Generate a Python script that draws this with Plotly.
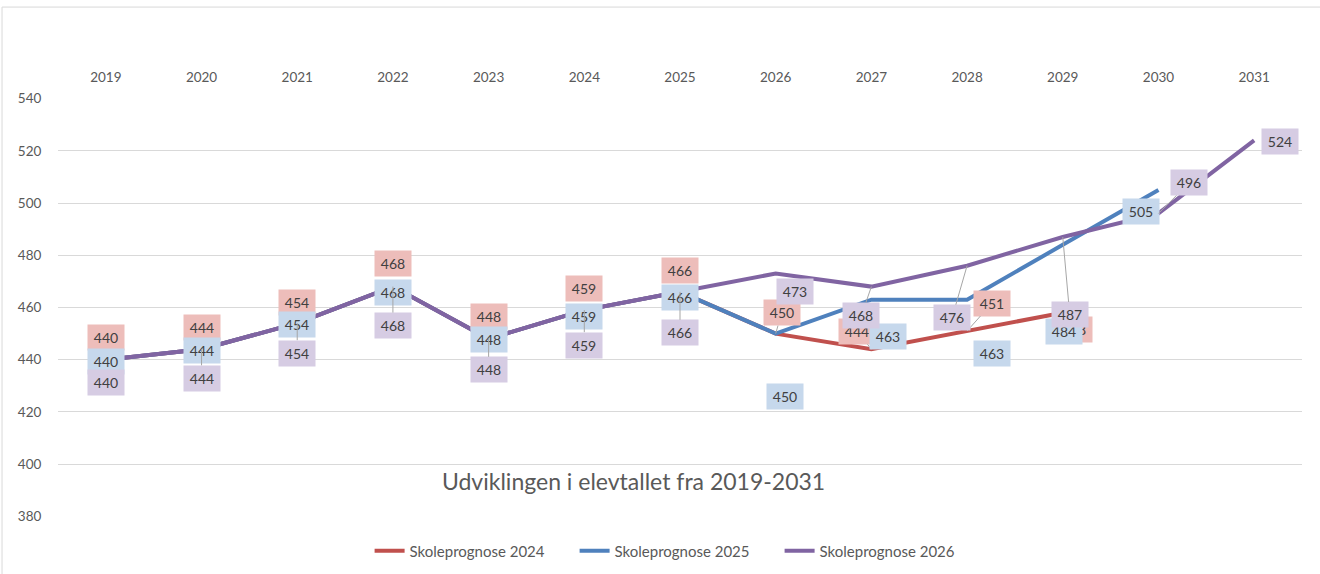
import plotly.graph_objects as go

years = ["2019", "2020", "2021", "2022", "2023", "2024", "2025",
         "2026", "2027", "2028", "2029", "2030", "2031"]

series_names = ["Skoleprognose 2024", "Skoleprognose 2025", "Skoleprognose 2026"]
prog_2024 = [440, 444, 454, 468, 448, 459, 466, 450, 444, 451, 458]
prog_2025 = [440, 444, 454, 468, 448, 459, 466, 450, 463, 463, 484, 505]
prog_2026 = [440, 444, 454, 468, 448, 459, 466, 473, 468, 476, 487, 496, 524]

line_colors = ["#C0504D", "#4F81BD", "#8064A2"]
label_colors = ["#EDBDBA", "#C6D8EC", "#D6CCE3"]

# label offsets in pixels (dx, dy) and whether a leader line is drawn
off_2024 = [(0, -22), (0, -22), (0, -21), (0, -23), (0, -22), (0, -22), (0, -21),
            (6, -21), (-14, -18), (25, -28), (11, 17)]
lead_2024 = [False] * 7 + [True, True, True, False]
off_2025 = [(0, 2), (0, 1), (0, 1), (0, 6), (0, 1), (0, 6), (0, 6),
            (9, 63), (17, 37), (25, 54), (1, 87), (-17, 22)]
lead_2025 = [False] * 12
off_2026 = [(0, 23), (0, 29), (0, 30), (0, 39), (0, 31), (0, 35), (0, 41),
            (19, 18), (-10, 29), (-15, 52), (7, 78), (31, -31), (26, 1)]
lead_2026 = [False, True, True, True, True, True, True, False, True, True, True, True, False]

all_vals = [prog_2024, prog_2025, prog_2026]
all_offs = [off_2024, off_2025, off_2026]
all_leads = [lead_2024, lead_2025, lead_2026]

FONT = "Lato"
fig = go.Figure()
for name, vals, col in zip(series_names, all_vals, line_colors):
    fig.add_trace(go.Scatter(
        x=years[:len(vals)], y=vals, name=name, mode="lines",
        line=dict(color=col, width=4), hoverinfo="x+y+name"))

annotations = []
for vals, offs, leads, bg in zip(all_vals, all_offs, all_leads, label_colors):
    for i, v in enumerate(vals):
        dx, dy = offs[i]
        annotations.append(dict(
            x=i, y=v, xref="x", yref="y", text=str(v),
            showarrow=True, ax=dx, ay=dy, axref="pixel", ayref="pixel",
            arrowhead=0, arrowwidth=1, standoff=0,
            arrowcolor="#A6A6A6" if leads[i] else "rgba(0,0,0,0)",
            bgcolor=bg, borderpad=4, width=28, height=17,
            font=dict(family=FONT, size=14, color="#404040")))

annotations.append(dict(
    x=0.463, y=0.048, xref="paper", yref="paper", showarrow=False,
    text="Udviklingen i elevtallet fra 2019-2031",
    font=dict(family=FONT, size=23, color="#595959")))

fig.update_layout(
    width=1320, height=574,
    margin=dict(l=58, r=18, t=98, b=57, autoexpand=False),
    paper_bgcolor="white", plot_bgcolor="white",
    font=dict(family=FONT, size=13, color="#595959"),
    showlegend=True,
    legend=dict(orientation="h", x=0.28, xanchor="left", xref="container",
                y=0.04, yanchor="middle", yref="container", entrywidth=160,
                font=dict(family=FONT, size=15, color="#595959"), itemwidth=30),
    annotations=annotations,
    shapes=[dict(type="rect", xref="paper", yref="paper",
                 x0=-0.045, x1=1.025, y0=-0.2, y1=1.217,
                 line=dict(color="#D9D9D9", width=1), layer="below")],
    xaxis=dict(type="category", side="top", range=[-0.5, 12.5], automargin=False,
               showgrid=False, showline=False, zeroline=False,
               ticks="outside", ticklen=10, tickcolor="rgba(0,0,0,0)",
               tickfont=dict(size=13.5, color="#595959")),
    yaxis=dict(range=[379.8, 540.2], tickvals=[380, 400, 420, 440, 460, 480, 500, 520, 540],
               showgrid=True, gridcolor="#D9D9D9", automargin=False,
               gridwidth=1, zeroline=False, showline=False,
               ticks="outside", ticklen=13, tickcolor="rgba(0,0,0,0)",
               tickfont=dict(size=13.5, color="#595959")),
)

fig.write_html("out.html", config={"displayModeBar": False},
               post_script="document.body.style.margin='0';")
